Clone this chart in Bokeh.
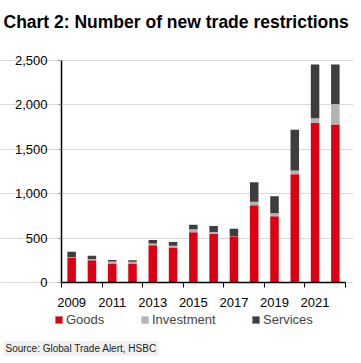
from bokeh.plotting import figure
from bokeh.models import (Range1d, FixedTicker, Legend, LegendItem, Label,
                          NumeralTickFormatter, ColumnDataSource)
from bokeh.embed import file_html
from bokeh.resources import INLINE

years = [2009, 2010, 2011, 2012, 2013, 2014, 2015, 2016, 2017, 2018, 2019, 2020, 2021, 2022]
goods = [280, 250, 215, 215, 420, 395, 565, 550, 520, 870, 745, 1220, 1800, 1780]
investment = [5, 15, 22, 20, 20, 20, 35, 20, 5, 40, 35, 40, 50, 230]
services = [60, 35, 15, 15, 40, 40, 50, 65, 80, 220, 190, 460, 605, 445]
series = ["Goods", "Investment", "Services"]
colors = ["#DD0011", "#B3B3B3", "#3D3D3D"]
y_ticks = [0, 500, 1000, 1500, 2000, 2500]
x_label_years = [2009, 2011, 2013, 2015, 2017, 2019, 2021]

FONT = "Liberation Sans"
W, H = 353, 360

# plot area inside the canvas (pixels): left 61, right 345, top 60, bottom 282
x0, x1 = years[0] - 0.5, years[-1] + 0.5
y0, y1 = 0, 2500
ppx = (345 - 61) / (x1 - x0)
ppy = (282 - 60) / (y1 - y0)
xr = Range1d(x0 - 61 / ppx, x1 + (W - 345) / ppx)
yr = Range1d(y0 - (H - 282) / ppy, y1 + 60 / ppy)

src = ColumnDataSource(dict(year=years, Goods=goods, Investment=investment, Services=services))

p = figure(width=W, height=H, output_backend="svg", toolbar_location=None,
           x_range=xr, y_range=yr,
           min_border_left=0, min_border_right=0, min_border_top=0, min_border_bottom=0)
p.outline_line_color = None
p.background_fill_color = "white"
p.border_fill_color = "white"

rs = p.vbar_stack(series, x="year", width=0.42, color=colors, source=src, line_color=None)

# x axis, fixed at y = 0
p.xaxis.fixed_location = 0
p.xaxis.bounds = (x0, x1)
p.xaxis.ticker = FixedTicker(ticks=x_label_years,
                             minor_ticks=[y - 0.5 for y in years[::2]] + [x1])
p.xaxis.major_tick_line_color = None
p.xaxis.minor_tick_line_color = "black"
p.xaxis.minor_tick_out = 5
p.xaxis.minor_tick_in = 0
p.xaxis.axis_line_color = "black"
p.xaxis.axis_line_width = 1.5
p.xaxis.major_label_text_font = FONT
p.xaxis.major_label_text_font_size = "13px"
p.xaxis.major_label_text_color = "black"
p.xaxis.major_label_standoff = 9

# y axis, fixed at left edge of the bars area
p.yaxis.fixed_location = x0
p.yaxis.bounds = (y0, y1)
p.yaxis.ticker = FixedTicker(ticks=y_ticks)
p.yaxis.formatter = NumeralTickFormatter(format="0,0")
p.yaxis.minor_tick_line_color = None
p.yaxis.major_tick_out = 3
p.yaxis.major_tick_in = 0
p.yaxis.major_tick_line_color = "#888888"
p.yaxis.axis_line_color = "black"
p.yaxis.axis_line_width = 1.5
p.yaxis.major_label_text_font = FONT
p.yaxis.major_label_text_font_size = "13px"
p.yaxis.major_label_text_color = "black"
p.yaxis.major_label_standoff = 11

p.xgrid.grid_line_color = None
p.ygrid.grid_line_color = "#D9D9D9"
p.ygrid.grid_line_width = 1
p.ygrid.bounds = (x0, x1)

# legends (one per item for exact placement)
for r, name, lx in zip(rs, series, [54, 140, 251]):
    lg = Legend(items=[LegendItem(label=name, renderers=[r])], location=(lx, 33),
                orientation="horizontal", glyph_width=9, glyph_height=9,
                label_standoff=3, label_text_font=FONT, label_text_font_size="13px",
                label_height=13, padding=0, margin=0, spacing=0,
                border_line_color=None, background_fill_alpha=0)
    p.add_layout(lg, "center")

title = Label(x=3, y=H - 21, x_units="screen", y_units="screen",
              text="Chart 2: Number of new trade restrictions", text_font=FONT,
              text_font_size="17.5px", text_font_style="bold", text_color="black",
              text_baseline="alphabetic")
p.add_layout(title)

source = Label(x=3, y=H - 348, x_units="screen", y_units="screen",
               text="Source: Global Trade Alert, HSBC", text_font=FONT,
               text_font_size="10px", text_color="#222222", text_baseline="alphabetic",
               background_fill_color="#F0F0F0", padding=2)
p.add_layout(source)

open("out.html", "w").write(file_html(p, INLINE))
